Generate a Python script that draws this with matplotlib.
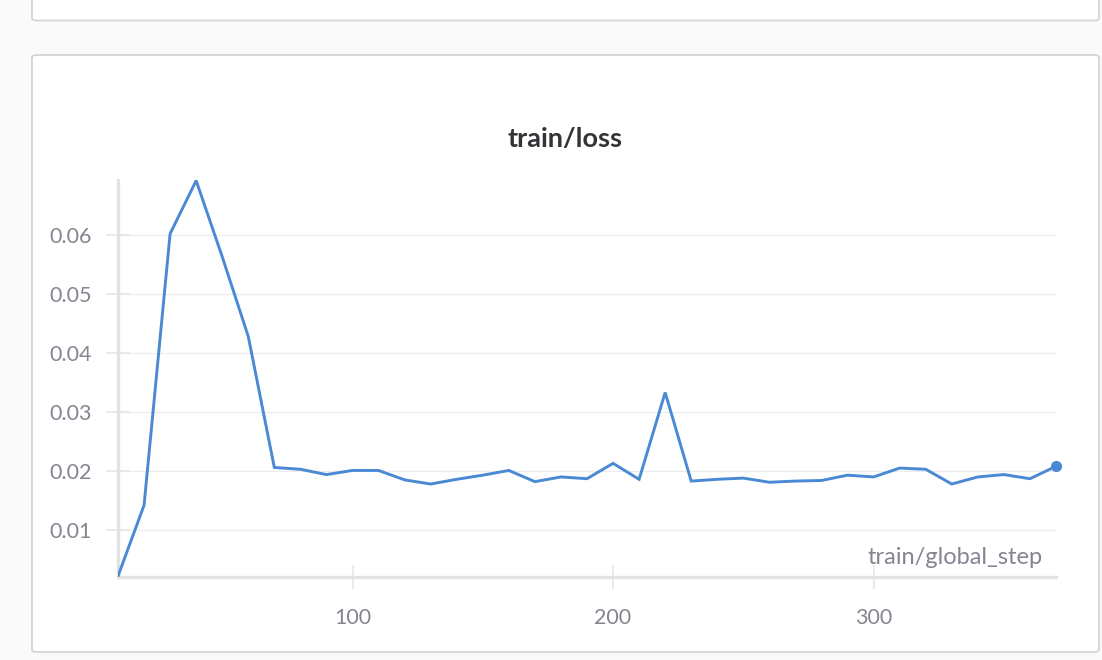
import matplotlib
matplotlib.use("Agg")
import matplotlib.pyplot as plt
from matplotlib.patches import FancyBboxPatch

# Datos (train/loss vs train/global_step)
pasos = [10, 20, 30, 40, 50, 60, 70, 80, 90, 100, 110, 120, 130, 140, 150,
         160, 170, 180, 190, 200, 210, 220, 230, 240, 250, 260, 270, 280,
         290, 300, 310, 320, 330, 340, 350, 360, 370]
perdida = [0.0022, 0.0142, 0.0602, 0.0692, 0.0563, 0.0428, 0.0206, 0.0203,
           0.0194, 0.0201, 0.0201, 0.0185, 0.0178, 0.0186, 0.0193, 0.0201,
           0.0182, 0.0190, 0.0187, 0.0213, 0.0186, 0.0333, 0.0183, 0.0186,
           0.0188, 0.0181, 0.0183, 0.0184, 0.0193, 0.0190, 0.0205, 0.0203,
           0.0178, 0.0190, 0.0194, 0.0187, 0.0208]
yticks = [0.01, 0.02, 0.03, 0.04, 0.05, 0.06]
xticks = [100, 200, 300]

plt.rcParams['font.family'] = ['Lato', 'DejaVu Sans']

W, H = 1102, 660
fig = plt.figure(figsize=(W / 100, H / 100), dpi=100)
fig.patch.set_facecolor('#fafafa')

# Paneles tipo W&B (uno cortado arriba, otro con el gráfico)
def panel(x0, y0, x1, y1):
    p = FancyBboxPatch((x0 / W, 1 - y1 / H), (x1 - x0) / W, (y1 - y0) / H,
                       boxstyle="round,pad=0,rounding_size=0.004",
                       transform=fig.transFigure, facecolor='white',
                       edgecolor='#d4d4d8', linewidth=1.3, zorder=-5)
    fig.patches.append(p)

panel(32, -20, 1099, 20.5)
panel(32, 55, 1099, 652)

ax = fig.add_axes([118 / W, 1 - 577 / H, (1056 - 118) / W, (577 - 180) / H])
ax.set_facecolor('none')

color_linea = '#4a89d4'
ax.plot(pasos, perdida, color=color_linea, lw=2.1, solid_joinstyle='miter', zorder=3)
ax.plot(pasos[-1], perdida[-1], 'o', color=color_linea, ms=7, zorder=4, clip_on=False)

ax.set_xlim(10, 370)
ax.set_ylim(0.00205, 0.0693)

ax.set_yticks(yticks)
ax.set_yticklabels([f"{v:.2f}" for v in yticks])
ax.set_xticks(xticks)
ax.set_xticklabels([str(v) for v in xticks])

ax.grid(axis='y', color='#ececee', lw=0.9, zorder=0)
for s in ['top', 'right']:
    ax.spines[s].set_visible(False)
for s in ['left', 'bottom']:
    ax.spines[s].set_color('#e2e2e5')
    ax.spines[s].set_linewidth(2.4)

ax.tick_params(axis='y', direction='inout', length=17, width=1.2, color='#e6e6e8',
               labelcolor='#858592', labelsize=15.5, pad=10.5)
ax.tick_params(axis='x', direction='inout', length=17, width=1.2, color='#e6e6e8',
               labelcolor='#858592', labelsize=15.5, pad=14)

# Etiqueta del eje x dentro del área, abajo a la derecha
ax.text(1043 / W, 1 - 557 / H, "train/global_step", transform=fig.transFigure,
        ha='right', va='center', fontsize=17, color='#858592')

# Título centrado en el panel
fig.text(565.5 / W, 1 - 139 / H, "train/loss", ha='center', va='center',
         fontsize=19.5, fontweight='bold', color='#333338')

fig.savefig("out.png", dpi=100, facecolor=fig.get_facecolor())
